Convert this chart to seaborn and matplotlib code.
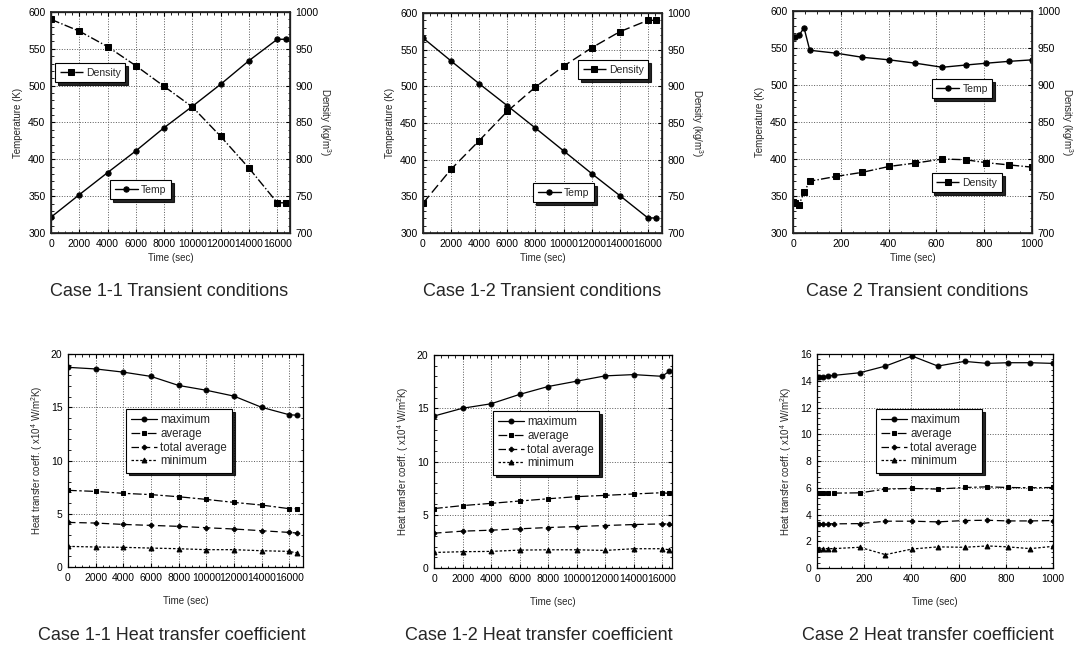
import numpy as np
import pandas as pd
import matplotlib
matplotlib.use('Agg')
import matplotlib.pyplot as plt
from matplotlib.ticker import MultipleLocator, AutoMinorLocator
import seaborn as sns

sns.set_theme(style='ticks')
plt.rcParams['font.family'] = ['Liberation Sans', 'DejaVu Sans']
plt.rcParams['mathtext.fontset'] = 'custom'
plt.rcParams['mathtext.rm'] = 'Liberation Sans'
plt.rcParams['mathtext.it'] = 'Liberation Sans:italic'

# ---------------- 数据 ----------------
# Case 1-1 transient
t_11 = [0, 2000, 4000, 6000, 8000, 10000, 12000, 14000, 16000, 16600]
temp_11 = [321.5, 352, 382, 411.5, 443, 472, 502, 534, 563, 563]
dens_11 = [990, 974, 953, 927, 899, 871, 831, 788, 741, 741]

# Case 1-2 transient
t_12 = [0, 2000, 4000, 6000, 8000, 10000, 12000, 14000, 16000, 16600]
temp_12 = [566, 534.5, 503.5, 473.5, 443, 412, 381, 351, 320.5, 320.5]
dens_12 = [740.5, 787, 826, 866, 899, 927.5, 952.5, 974.5, 990, 990]

# Case 2 transient
t_2 = [0, 10, 25, 46, 70, 181, 290, 403, 512, 625, 722, 809, 904, 1000]
temp_2 = [564.5, 565, 567, 577.5, 547, 543, 537.5, 534, 529.5, 524, 527, 529.5, 532, 534]
dens_2 = [742, 740, 738, 755, 770, 776.5, 782, 790, 794.5, 800, 799, 795, 792, 789]

# Case 1-1 heat transfer coefficient
t_h11 = [0, 2000, 4000, 6000, 8000, 10000, 12000, 14000, 16000, 16600]
hmax_11 = [18.75, 18.6, 18.3, 17.9, 17.05, 16.6, 16.05, 15.0, 14.3, 14.25]
havg_11 = [7.2, 7.1, 6.92, 6.8, 6.6, 6.35, 6.07, 5.82, 5.48, 5.48]
htot_11 = [4.19, 4.13, 4.0, 3.91, 3.82, 3.69, 3.57, 3.41, 3.25, 3.19]
hmin_11 = [1.94, 1.88, 1.85, 1.78, 1.72, 1.63, 1.63, 1.53, 1.47, 1.31]

# Case 1-2 heat transfer coefficient
t_h12 = [0, 2000, 4000, 6000, 8000, 10000, 12000, 14000, 16000, 16500]
hmax_12 = [14.27, 15.0, 15.42, 16.3, 17.04, 17.54, 18.04, 18.16, 18.0, 18.47]
havg_12 = [5.58, 5.86, 6.07, 6.29, 6.5, 6.7, 6.82, 6.95, 7.07, 7.0]
htot_12 = [3.27, 3.46, 3.55, 3.68, 3.8, 3.89, 3.99, 4.08, 4.14, 4.14]
hmin_12 = [1.46, 1.53, 1.56, 1.68, 1.71, 1.71, 1.65, 1.81, 1.81, 1.71]

# Case 2 heat transfer coefficient
t_h2 = [0, 10, 25, 46, 70, 181, 290, 403, 512, 625, 722, 809, 904, 1000]
hmax_2 = [14.3, 14.25, 14.3, 14.35, 14.4, 14.6, 15.1, 15.85, 15.1, 15.45, 15.3, 15.35, 15.35, 15.3]
havg_2 = [5.6, 5.6, 5.6, 5.62, 5.6, 5.62, 5.9, 5.95, 5.9, 6.02, 6.07, 6.02, 6.0, 6.02]
htot_2 = [3.3, 3.3, 3.3, 3.32, 3.3, 3.32, 3.5, 3.5, 3.45, 3.55, 3.57, 3.52, 3.52, 3.55]
hmin_2 = [1.45, 1.45, 1.45, 1.45, 1.45, 1.55, 1.0, 1.42, 1.58, 1.55, 1.65, 1.58, 1.45, 1.62]

captions_top = ['Case 1-1 Transient conditions', 'Case 1-2 Transient conditions',
                'Case 2 Transient conditions']
captions_bot = ['Case 1-1 Heat transfer coefficient', 'Case 1-2 Heat transfer coefficient',
                'Case 2 Heat transfer coefficient']

FS = 7
GRID = dict(linestyle=':', color='0.35', linewidth=0.7)
SHADOW = {'color': 'black', 'alpha': 0.85}

W, H = 1081, 649
cap_top_x = [169, 542, 917]
cap_bot_x = [172, 539, 928]


def style_ax(ax, xmax, xstep, ymin, ymax, ystep, right=True):
    ax.set_xlim(0, xmax)
    ax.set_ylim(ymin, ymax)
    ax.xaxis.set_major_locator(MultipleLocator(xstep))
    ax.yaxis.set_major_locator(MultipleLocator(ystep))
    ax.xaxis.set_minor_locator(AutoMinorLocator(4))
    ax.yaxis.set_minor_locator(AutoMinorLocator(5))
    ax.tick_params(which='both', direction='in', top=True, right=right,
                   labelsize=FS + 0.5, colors='black', pad=4)
    ax.tick_params(which='major', length=3, width=0.8)
    ax.tick_params(which='minor', length=1.8, width=0.6)
    ax.grid(True, which='major', **GRID)
    for s in ax.spines.values():
        s.set_color('black')
        s.set_linewidth(0.9)


def add_legend(ax, handles, labels, x, y, fs):
    leg = ax.legend(handles, labels, loc='upper left', bbox_to_anchor=(x, y),
                    frameon=True, fancybox=False, shadow=SHADOW, fontsize=fs,
                    handlelength=2.2, handletextpad=0.3, borderpad=0.45,
                    labelspacing=0.15, borderaxespad=0)
    leg.get_frame().set_edgecolor('black')
    leg.get_frame().set_linewidth(0.8)
    leg.get_frame().set_alpha(1)
    return leg


fig = plt.figure(figsize=(10.81, 6.49), dpi=100)

top_pos = [[0.0472, 0.641, 0.2211, 0.3405],
           [0.3913, 0.641, 0.2211, 0.339],
           [0.7336, 0.641, 0.2211, 0.342]]
bot_pos = [[0.0629, 0.1263, 0.2174, 0.3282],
           [0.4015, 0.1248, 0.2202, 0.3282],
           [0.7558, 0.1248, 0.2183, 0.3297]]

# ---------------- 上排: 温度/密度 ----------------
top_data = [(t_11, temp_11, dens_11, 16900, 2000, '-.'),
            (t_12, temp_12, dens_12, 17000, 2000, (0, (7, 3))),
            (t_2, temp_2, dens_2, 1000, 200, '-.')]
top_leg = [((0.017, 0.769), (0.247, 0.24)),
           ((0.649, 0.786), (0.46, 0.227)),
           ((0.58, 0.27), (0.58, 0.694))]

for i, (t, temp, dens, xmax, xstep, dls) in enumerate(top_data):
    ax = fig.add_axes(top_pos[i])
    ax2 = ax.twinx()
    sns.lineplot(x=t, y=temp, ax=ax, color='black', marker='o', markersize=3.8,
                 markeredgecolor='black', linewidth=1.0, label='Temp', legend=False)
    sns.lineplot(x=t, y=dens, ax=ax2, color='black', marker='s', markersize=3.8,
                 markeredgecolor='black', linewidth=1.0, linestyle=dls,
                 label='Density', legend=False)
    style_ax(ax, xmax, xstep, 300, 600, 50, right=False)
    ax2.set_ylim(700, 1000)
    ax2.yaxis.set_major_locator(MultipleLocator(50))
    ax2.yaxis.set_minor_locator(AutoMinorLocator(5))
    ax2.tick_params(which='both', direction='in', labelsize=FS + 0.5, colors='black', pad=4)
    ax2.tick_params(which='major', length=3, width=0.8)
    ax2.tick_params(which='minor', length=1.8, width=0.6)
    ax2.grid(False)
    ax.set_xlabel('Time (sec)', fontsize=FS, labelpad=3)
    ax.set_ylabel('Temperature (K)', fontsize=FS, labelpad=4)
    ax2.set_ylabel('Density (kg/m$^3$)', fontsize=FS, rotation=270, labelpad=10)

    h1, l1 = ax.get_legend_handles_labels()
    h2, l2 = ax2.get_legend_handles_labels()
    (dx, dy), (tx, ty) = top_leg[i]
    leg_d = add_legend(ax2, h2, l2, dx, dy, FS + 0.5)
    ax2.add_artist(leg_d)
    add_legend(ax2, h1, l1, tx, ty, FS + 0.5)

    fig.text(cap_top_x[i] / W, 1 - 291 / H, captions_top[i],
             ha='center', va='center', fontsize=13)

# ---------------- 下排: 传热系数 ----------------
bot_data = [(t_h11, hmax_11, havg_11, htot_11, hmin_11, 17000, 2000, 20, 5),
            (t_h12, hmax_12, havg_12, htot_12, hmin_12, 16700, 2000, 20, 5),
            (t_h2, hmax_2, havg_2, htot_2, hmin_2, 1000, 200, 16, 2)]
bot_leg = [(0.247, 0.742), (0.248, 0.737), (0.25, 0.743)]
styles = [('maximum', 'o', '-'),
          ('average', 's', (0, (7, 2, 2, 2))),
          ('total average', 'P', (0, (6, 3))),
          ('minimum', '^', (0, (2, 1.5)))]

for i, (t, hmax, havg, htot, hmin, xmax, xstep, ymax, ystep) in enumerate(bot_data):
    ax = fig.add_axes(bot_pos[i])
    for yv, (lab, mk, ls) in zip([hmax, havg, htot, hmin], styles):
        sns.lineplot(x=t, y=yv, ax=ax, color='black', marker=mk,
                     markersize=3.5 if mk != 'P' else 3.2, markeredgecolor='black',
                     linewidth=0.9, linestyle=ls, label=lab, legend=False)
    style_ax(ax, xmax, xstep, 0, ymax, ystep)
    ax.set_xlabel('Time (sec)', fontsize=FS, labelpad=10)
    ax.set_ylabel('Heat transfer coeff. ( x10$^4$ W/m$^2$K)', fontsize=FS, labelpad=4)
    h, l = ax.get_legend_handles_labels()
    add_legend(ax, h, l, *bot_leg[i], fs=FS + 1.3)

    fig.text(cap_bot_x[i] / W, 1 - 635 / H, captions_bot[i],
             ha='center', va='center', fontsize=13)

fig.savefig('out.png', dpi=100, facecolor='white')
